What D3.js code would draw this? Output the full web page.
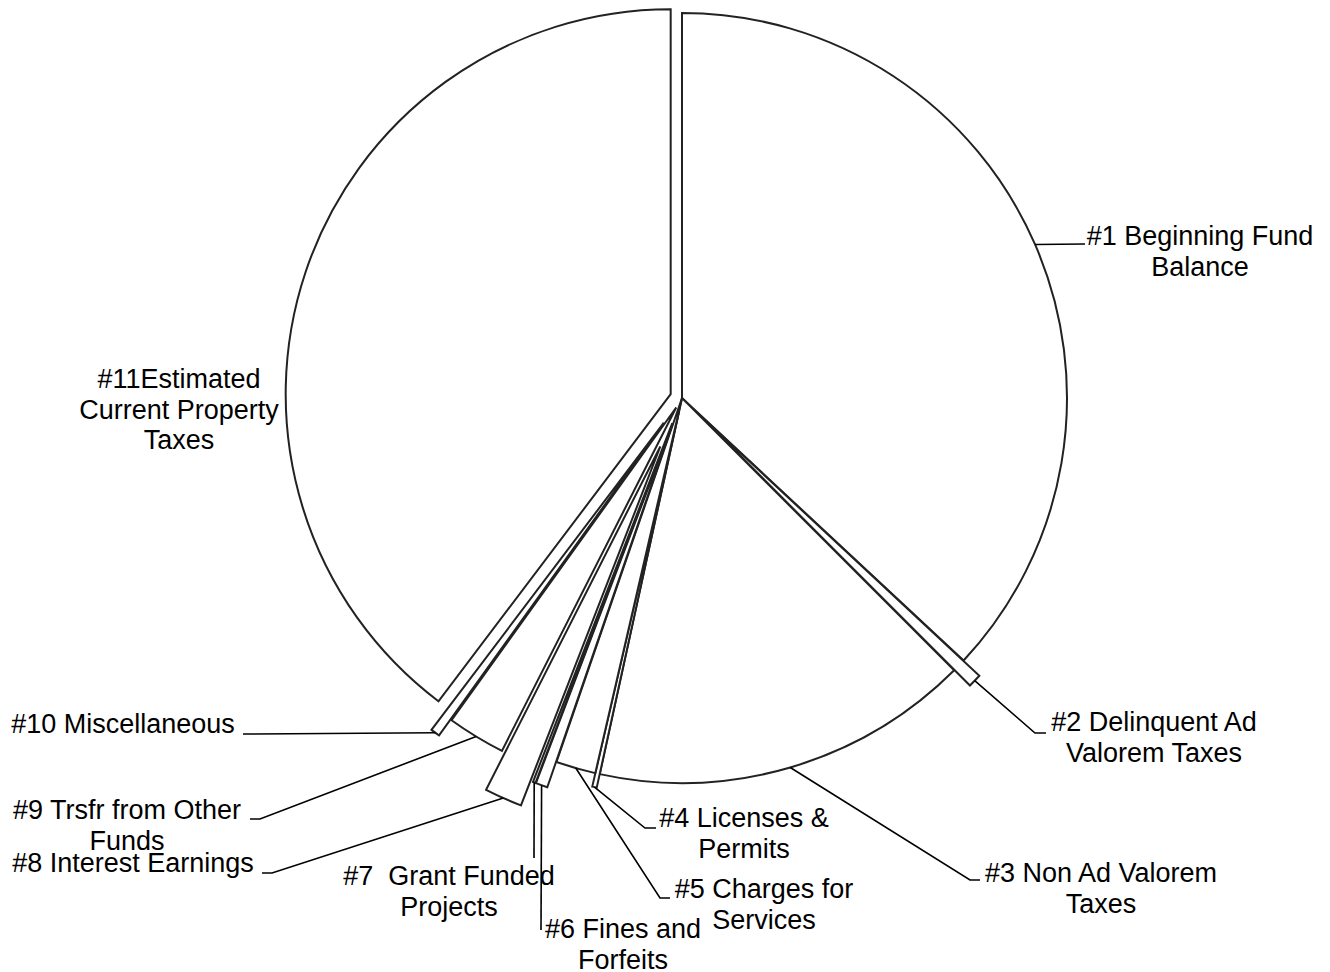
<!DOCTYPE html>
<html>
<head>
<meta charset="utf-8">
<script src="https://cdn.jsdelivr.net/npm/d3@7"></script>
<style>
  body { margin: 0; background: #fff; }
  svg { display: block; }
</style>
</head>
<body>
<div id="chart"></div>
<script>

// data (share of total revenue, percent)
var categories = [
  "#1 Beginning Fund Balance",
  "#2 Delinquent Ad Valorem Taxes",
  "#3 Non Ad Valorem Taxes",
  "#4 Licenses & Permits",
  "#5 Charges for Services",
  "#6 Fines and Forfeits",
  "#7  Grant Funded Projects",
  "#8 Interest Earnings",
  "#9 Trsfr from Other Funds",
  "#10 Miscellaneous",
  "#11Estimated Current Property Taxes"
];
var shares = [36.94, 0.56, 15.92, 0.19, 1.67, 0.50, 0.11, 1.58, 2.44, 0.39, 39.69];

// label text, as broken into lines in the picture
var labelLines = [
  ["#1 Beginning Fund", "Balance"],
  ["#2 Delinquent Ad", "Valorem Taxes"],
  ["#3 Non Ad Valorem", "Taxes"],
  ["#4 Licenses &", "Permits"],
  ["#5 Charges for", "Services"],
  ["#6 Fines and", "Forfeits"],
  ["#7  Grant Funded", "Projects"],
  ["#8 Interest Earnings"],
  ["#9 Trsfr from Other", "Funds"],
  ["#10 Miscellaneous"],
  ["#11Estimated", "Current Property", "Taxes"]
];

// layout
var width = 1330, height = 972;
var cx = 682, cy = 398, radius = 385;
var lineheight = 30.5;
var fontsize = "27px";

// explosion of each slice, fraction of the radius
var explode = [0, 0.057, 0, 0.036, 0, 0.07, 0.07, 0.138, 0.029, 0.08, 0.031];

// label boxes: text centre, first baseline, leader bend points
var labelpos = [
  { x: 1200, y: 245, bend: [[1085, 244]] },
  { x: 1154, y: 731, bend: [[1035, 733], [1046, 733]] },
  { x: 1101, y: 882, bend: [[970, 880], [980, 880]] },
  { x: 744,  y: 827, bend: [[645, 828], [656, 828]] },
  { x: 764,  y: 898, bend: [[660, 898], [670, 898]] },
  { x: 623,  y: 938, bend: [[541, 930]] },
  { x: 449,  y: 885, bend: [[534, 858]] },
  { x: 133,  y: 872, bend: [[272, 873], [262, 873]] },
  { x: 127,  y: 819, bend: [[260, 819], [250, 819]] },
  { x: 123,  y: 733, bend: [[250, 734], [243, 734]] },
  { x: 179,  y: 388, bend: [] }
];

var svg = d3.select("#chart").append("svg")
    .attr("width", width)
    .attr("height", height);

var g = svg.append("g")
    .attr("transform", "translate(" + cx + "," + cy + ")");

var pie = d3.pie()
    .sort(null)
    .value(function(d) { return d; });

var arc = d3.arc()
    .innerRadius(0)
    .outerRadius(radius);

var arcs = pie(shares);

// offset of a slice along its bisector
function offset(d, i) {
  var mid = (d.startAngle + d.endAngle) / 2;
  var dist = explode[i] * radius;
  return [Math.sin(mid) * dist, -Math.cos(mid) * dist];
}

// slices, drawn in order so later ones sit on top
g.selectAll(".slice")
  .data(arcs)
  .enter().append("path")
    .attr("class", "slice")
    .attr("fill", "#fff")
    .attr("stroke", "#222")
    .attr("stroke-width", 2)
    .attr("stroke-linejoin", "miter")
    .attr("transform", function(d, i) {
      var o = offset(d, i);
      return "translate(" + o[0] + "," + o[1] + ")";
    })
    .attr("d", arc);

// leader lines from the outer edge of each slice to its label
var line = d3.line();

g.selectAll(".leader")
  .data(arcs.filter(function(d, i) { return labelpos[i].bend.length > 0; }))
  .enter().append("path")
    .attr("class", "leader")
    .attr("fill", "none")
    .attr("stroke", "#000")
    .attr("stroke-width", 1.6)
    .attr("d", function(d) {
      var i = d.index;
      var o = offset(d, i);
      var mid = (d.startAngle + d.endAngle) / 2;
      var pts = [[o[0] + Math.sin(mid) * radius, o[1] - Math.cos(mid) * radius]];
      labelpos[i].bend.forEach(function(p) { pts.push([p[0] - cx, p[1] - cy]); });
      return line(pts);
    });

// labels
var labels = svg.selectAll(".label")
  .data(categories)
  .enter().append("text")
    .attr("class", "label")
    .attr("font-family", "'Liberation Sans', Arial, sans-serif")
    .attr("font-size", fontsize)
    .attr("fill", "#000")
    .attr("text-anchor", "middle")
    .attr("x", function(d, i) { return labelpos[i].x; })
    .attr("y", function(d, i) { return labelpos[i].y; })
    .attr("xml:space", "preserve")
    .style("white-space", "pre");

labels.each(function(d, i) {
  var t = d3.select(this);
  labelLines[i].forEach(function(s, k) {
    t.append("tspan")
      .attr("x", labelpos[i].x)
      .attr("y", labelpos[i].y + k * lineheight)
      .text(s);
  });
});

</script>
</body>
</html>
